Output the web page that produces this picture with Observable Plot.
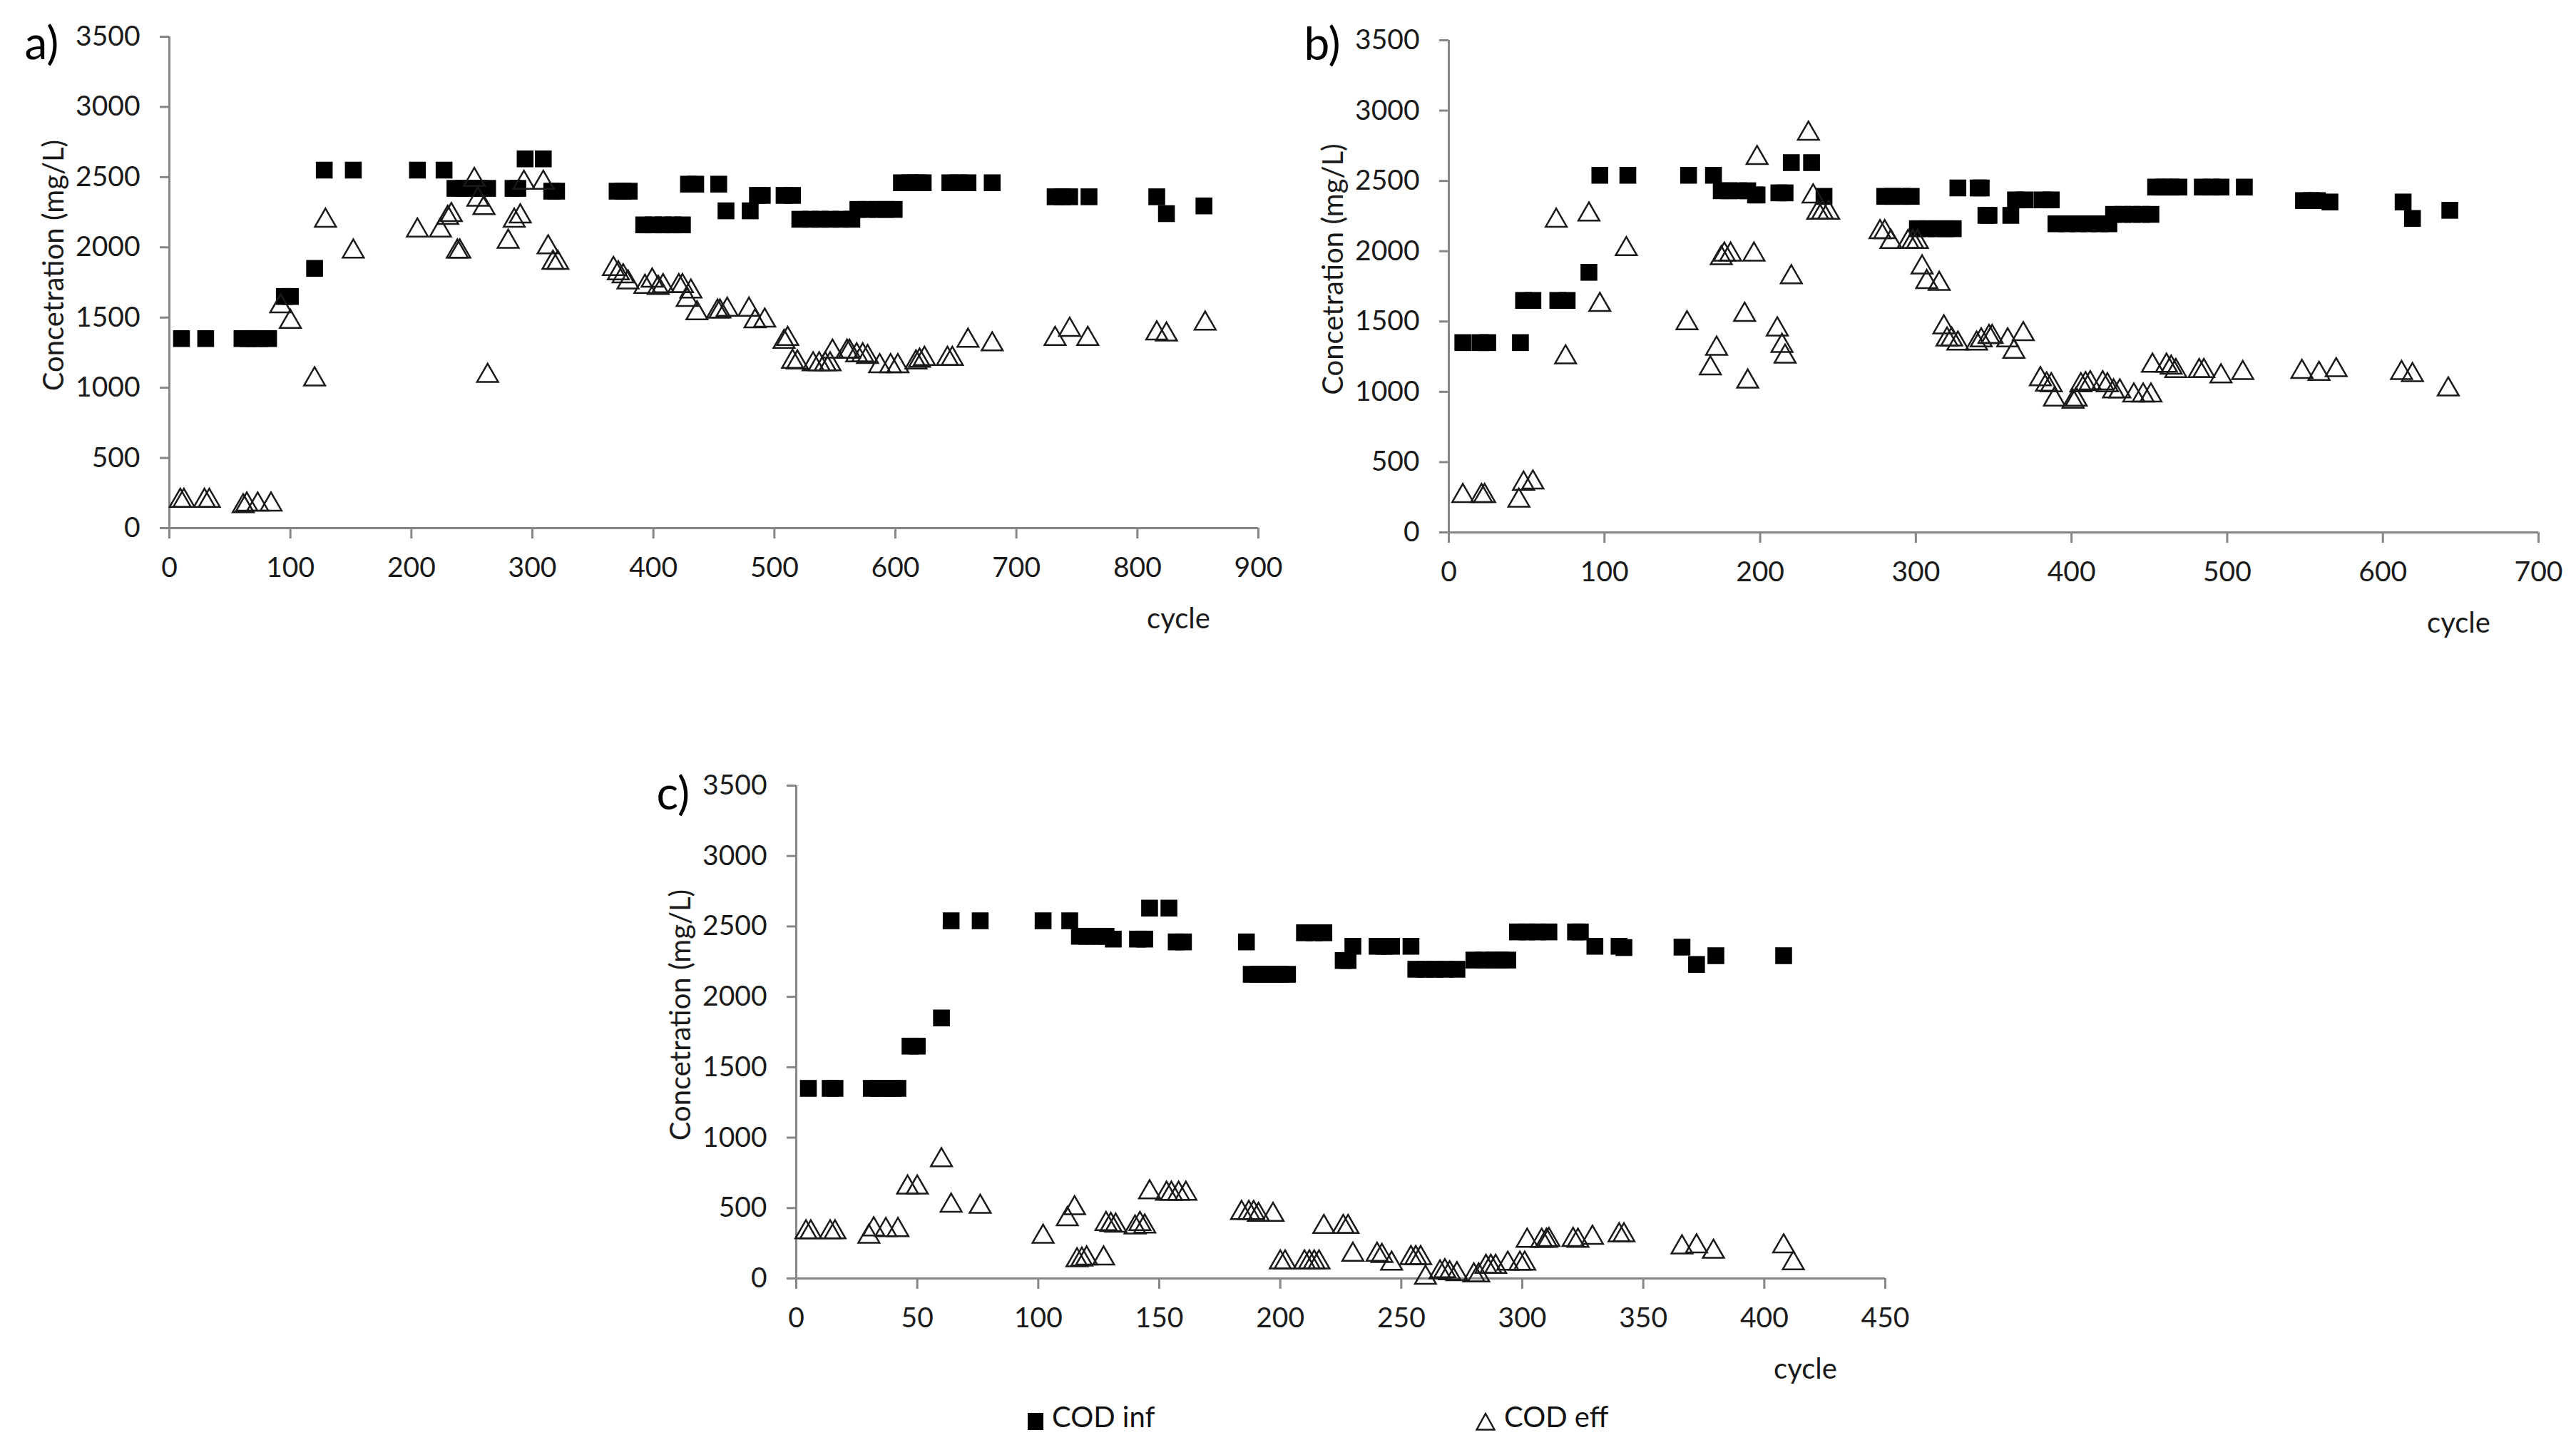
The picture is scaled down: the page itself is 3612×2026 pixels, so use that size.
<!DOCTYPE html>
<html>
<head>
<meta charset="utf-8">
<script src="https://cdn.jsdelivr.net/npm/d3@7"></script>
<script src="https://cdn.jsdelivr.net/npm/@observablehq/plot@0.6"></script>
<style>
  html, body { margin: 0; padding: 0; background: #fff; }
  #page { position: relative; width: 3612px; height: 2026px; overflow: hidden; background: #fff; font-family: Lato, "Open Sans", sans-serif; }
  .panel { position: absolute; }
  .legend-item { position: absolute; font-family: Lato, sans-serif; font-size: 40px; line-height: 40px; color: #111; white-space: nowrap; }
</style>
</head>
<body>
<div id="page"></div>
<script>
// ---------------- DATA ----------------
// Panel a)
const aInfCycle = [10,30,60,65,70,75,82,95,100,120,128,152,205,227,236,243,250,256,263,284,288,294,309,316,320,370,375,380,392,400,408,416,424,429,435,454,460,480,486,490,508,515,521,530,538,546,555,564,569,577,585,592,599,605,612,618,623,645,652,660,680,732,738,744,760,816,824,855];
const aInfCOD   = [1350,1350,1350,1350,1350,1350,1350,1650,1650,1850,2550,2550,2550,2550,2420,2420,2420,2420,2420,2420,2420,2630,2630,2400,2400,2400,2400,2400,2160,2160,2160,2160,2160,2450,2450,2450,2260,2260,2370,2370,2370,2370,2200,2200,2200,2200,2200,2200,2270,2270,2270,2270,2270,2460,2460,2460,2460,2460,2460,2460,2460,2360,2360,2360,2360,2360,2240,2295];
const aEffCycle = [9,12,29,33,61,64,73,84,92,100,120,129,152,205,224,230,233,238,240,252,255,260,263,280,285,290,293,309,313,317,321,367,371,375,379,393,399,404,408,421,424,428,431,436,453,455,461,479,484,492,508,511,515,519,532,537,542,546,548,560,562,568,573,577,587,596,602,617,620,624,643,647,660,680,732,744,759,816,824,856];
const aEffCOD   = [195,195,195,195,156,168,168,168,1580,1470,1060,2190,1970,2120,2120,2210,2230,1970,1970,2480,2340,2280,1085,2040,2190,2220,2460,2460,2000,1890,1890,1846,1815,1794,1750,1719,1763,1711,1724,1724,1724,1626,1685,1530,1543,1543,1556,1556,1473,1478,1327,1348,1185,1180,1167,1167,1167,1167,1257,1257,1257,1231,1231,1219,1154,1154,1154,1180,1193,1206,1206,1206,1335,1309,1348,1413,1348,1387,1379,1457];

// Panel b)
const bInfCycle = [9,20,25,46,48,54,70,76,90,97,115,154,170,175,180,186,192,197,198,212,216,220,233,241,280,285,291,297,301,307,313,319,324,327,340,342,345,347,361,364,370,381,387,390,397,404,411,418,424,427,433,439,445,451,454,459,464,469,484,490,496,511,549,554,558,566,613,619,643];
const bInfCOD   = [1350,1350,1350,1350,1650,1650,1650,1650,1850,2540,2540,2540,2540,2430,2430,2430,2430,2400,2400,2415,2415,2630,2630,2390,2390,2390,2390,2390,2160,2160,2160,2160,2160,2450,2450,2450,2255,2255,2255,2365,2365,2365,2365,2195,2195,2195,2195,2195,2195,2262,2262,2262,2262,2262,2456,2456,2456,2456,2456,2456,2456,2456,2360,2360,2360,2350,2350,2233,2291];
const bEffCycle = [9,21,23,45,48,54,69,75,90,97,114,153,168,172,175,177,181,190,192,196,198,211,214,216,220,231,234,237,240,244,277,280,284,295,298,301,304,307,315,318,320,323,327,339,342,347,349,359,363,369,380,384,387,389,401,403,406,409,412,420,423,427,431,440,446,451,452,461,464,467,482,485,496,510,548,559,570,612,619,642];
const bEffCOD   = [259,259,259,226,347,355,2217,1245,2261,1618,2015,1488,1167,1307,1950,1976,1976,1548,1073,1976,2663,1444,1327,1250,1815,2836,2390,2274,2274,2274,2136,2136,2066,2066,2066,2066,1885,1781,1768,1459,1372,1372,1343,1343,1366,1390,1390,1366,1285,1410,1090,1052,1047,945,930,945,1047,1055,1061,1061,1047,1003,1003,974,974,974,1186,1186,1172,1148,1148,1148,1110,1134,1142,1128,1154,1134,1119,1017];

// Panel c)
const cInfCycle = [5,14,16,31,34,37,40,42,47,50,60,64,76,102,113,117,120,123,126,128,131,141,144,146,154,157,160,186,188,191,194,197,200,203,210,214,218,226,228,230,240,243,246,254,256,260,264,268,273,280,284,288,291,294,298,302,306,311,322,324,330,340,342,366,372,380,408];
const cInfCOD   = [1350,1350,1350,1350,1350,1350,1350,1350,1650,1650,1850,2540,2540,2540,2540,2430,2430,2430,2430,2430,2410,2410,2410,2630,2630,2390,2390,2390,2160,2160,2160,2160,2160,2160,2455,2455,2455,2258,2258,2359,2359,2359,2359,2359,2196,2196,2196,2196,2196,2261,2261,2261,2261,2261,2461,2461,2461,2461,2461,2461,2359,2359,2350,2353,2230,2292,2292];
const cEffCycle = [4,6,14,16,30,32,37,42,46,50,60,64,76,102,112,115,116,118,120,127,128,130,132,140,142,144,146,153,155,158,161,184,187,189,191,197,200,202,210,212,214,216,218,226,228,230,240,242,246,254,256,258,260,266,268,270,273,280,282,285,287,289,294,299,301,302,308,310,311,321,323,329,340,342,366,372,379,408,412];
const cEffCOD   = [328,328,328,328,297,349,344,344,646,646,840,517,509,297,421,499,129,134,142,142,387,380,375,362,387,369,612,602,602,602,602,465,465,465,452,452,114,114,114,114,114,114,366,366,366,169,169,160,105,145,145,145,5,43,52,37,31,22,22,83,83,83,105,105,105,268,268,268,274,274,268,289,307,307,221,228,190,228,108];

// Axis / label texts
const yTitle = "Concetration (mg/L)";
const xTitle = "cycle";
const seriesNames = ["COD inf", "COD eff"];
const panelTags = ["a)", "b)", "c)"];
const yTicks = [0,500,1000,1500,2000,2500,3000,3500];
const aXTicks = [0,100,200,300,400,500,600,700,800,900];
const bXTicks = [0,100,200,300,400,500,600,700];
const cXTicks = [0,50,100,150,200,250,300,350,400,450];

// ---------------- BUILD ----------------
const zip = (xs, ys) => xs.map((x, i) => ({cycle: x, cod: ys[i]}));
const AXIS = "#868686";
const INK = "#1a1a1a";

function panel(cfg) {
  const {inf, eff, xTicks, tag, box, frame, tagPos} = cfg;
  const xMax = xTicks[xTicks.length - 1];
  return Plot.plot({
    width: box.w,
    height: box.h,
    marginLeft: frame.x0 - box.left,
    marginRight: box.left + box.w - frame.x1,
    marginTop: frame.y0 - box.top,
    marginBottom: box.top + box.h - frame.y1,
    style: {fontFamily: "Lato, sans-serif", fontSize: "39px", color: INK, background: "transparent", overflow: "visible"},
    x: {domain: [0, xMax]},
    y: {domain: [0, 3500]},
    marks: [
      Plot.ruleY([0], {stroke: AXIS, strokeWidth: 3}),
      Plot.ruleX([0], {stroke: AXIS, strokeWidth: 3}),
      Plot.axisY({ticks: yTicks, tickSize: 13, tickPadding: 28, tickFormat: "d", stroke: AXIS, strokeWidth: 3, label: null, fill: INK}),
      Plot.axisX({ticks: xTicks, tickSize: 15, tickPadding: 26, tickFormat: "d", stroke: AXIS, strokeWidth: 3, label: null, fill: INK}),
      Plot.dot(inf, {x: "cycle", y: "cod", symbol: "square", r: 13.3, fill: "#000", stroke: "none"}),
      Plot.dot(eff, {x: "cycle", y: "cod", symbol: "triangle", r: 11, fill: "none", stroke: INK, strokeWidth: 2.5}),
      Plot.text([yTitle], {text: d => d, frameAnchor: "left", textAnchor: "middle", rotate: -90, dx: -161, dy: -24, fontSize: 40, fill: INK}),
      Plot.text([xTitle], {text: d => d, frameAnchor: "bottom-right", textAnchor: "middle", dx: -112, dy: 140, lineAnchor: "bottom", fontSize: 40, fill: INK}),
      Plot.text([tag], {text: d => d, frameAnchor: "top-left", dx: tagPos.dx, dy: tagPos.dy, textAnchor: "start", lineAnchor: "bottom", fontSize: 64, fill: "#000"})
    ]
  });
}

const page = document.getElementById("page");
function place(svg, left, top) {
  const wrap = document.createElement("div");
  wrap.className = "panel";
  wrap.style.left = left + "px";
  wrap.style.top = top + "px";
  wrap.appendChild(svg);
  page.appendChild(wrap);
}

const A = {left: 0, top: 0, w: 1800, h: 950};
place(panel({
  inf: zip(aInfCycle, aInfCOD), eff: zip(aEffCycle, aEffCOD), xTicks: aXTicks, tag: panelTags[0],
  box: A, frame: {x0: 237, x1: 1764, y0: 51, y1: 740}, tagPos: {dx: -203, dy: 31}
}), A.left, A.top);

const B = {left: 1800, top: 0, w: 1812, h: 950};
place(panel({
  inf: zip(bInfCycle, bInfCOD), eff: zip(bEffCycle, bEffCOD), xTicks: bXTicks, tag: panelTags[1],
  box: B, frame: {x0: 2031, x1: 3559, y0: 56, y1: 746}, tagPos: {dx: -203, dy: 27}
}), B.left, B.top);

const C = {left: 880, top: 1000, w: 1800, h: 960};
place(panel({
  inf: zip(cInfCycle, cInfCOD), eff: zip(cEffCycle, cEffCOD), xTicks: cXTicks, tag: panelTags[2],
  box: C, frame: {x0: 1116, x1: 2643, y0: 1101, y1: 1792}, tagPos: {dx: -196, dy: 33}
}), C.left, C.top);

// Legend
function legendItem(left, top, markerSvg, label) {
  const d = document.createElement("div");
  d.className = "legend-item";
  d.style.left = left + "px";
  d.style.top = top + "px";
  d.innerHTML = markerSvg + `<span style="position:relative; top:-2px; margin-left:12px">${label}</span>`;
  page.appendChild(d);
}
legendItem(1441, 1968,
  `<svg width="22" height="24" style="vertical-align:middle"><rect x="0" y="0" width="22" height="24" fill="#000"/></svg>`,
  seriesNames[0]);
legendItem(2069, 1968,
  `<svg width="28" height="26" style="vertical-align:middle"><polygon points="14,2 26.5,24.5 1.5,24.5" fill="none" stroke="${INK}" stroke-width="2.5"/></svg>`,
  seriesNames[1]);
</script>
</body>
</html>
